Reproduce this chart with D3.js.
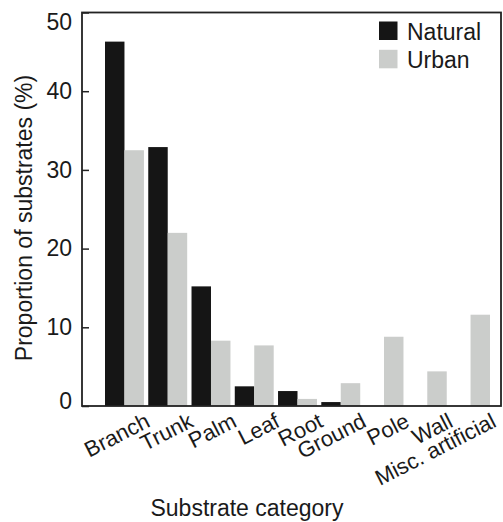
<!DOCTYPE html>
<html lang="en">
    <head>
        <meta charset="utf-8">
        <title>Substrate use</title>
        <script src="https://d3js.org/d3.v7.min.js"></script>
        <style type="text/css">
            body { margin: 0; background: white; }
            svg text { font-family: "Liberation Sans", Arial, sans-serif; fill: #1a1a1a; }
        </style>
    </head>
    <body>
        <script type="text/javascript">
            // data
            let categories = ["Branch", "Trunk", "Palm", "Leaf", "Root", "Ground", "Pole", "Wall", "Misc. artificial"];
            let series = ["Natural", "Urban"];
            let natural = [46.3, 32.9, 15.2, 2.5, 1.9, 0.5, 0, 0, 0];
            let urban = [32.5, 22.0, 8.3, 7.7, 0.9, 2.9, 8.8, 4.4, 11.6];
            let yTicks = [0, 10, 20, 30, 40, 50];

            let w = 503, h = 522;
            let colors = { Natural: "#151515", Urban: "#cbcdcb" };

            let svg = d3.select("body").append("svg")
                .attr("width", w)
                .attr("height", h);

            let plotLeft = 82, plotTop = 12.5, plotRight = 501, plotBottom = 406;

            let xScale = d3.scaleBand()
                .domain(categories)
                .range([105, 490])
                .paddingInner(0.1);
            let xInner = d3.scaleBand()
                .domain(series)
                .range([0, xScale.bandwidth()]);
            let yScale = d3.scaleLinear()
                .domain([0, 50])
                .range([plotBottom, plotTop]);

            let rows = categories.map((c, i) => ({ cat: c, Natural: natural[i], Urban: urban[i] }));

            // bars
            let groups = svg.append("g").selectAll("g")
                .data(rows)
                .enter()
                .append("g")
                .attr("transform", d => "translate(" + xScale(d.cat) + ",0)");
            groups.selectAll("rect")
                .data(d => series.map(s => ({ key: s, value: d[s] })))
                .enter()
                .append("rect")
                .attr("x", d => xInner(d.key))
                .attr("width", xInner.bandwidth())
                .attr("y", d => yScale(d.value))
                .attr("height", d => plotBottom - yScale(d.value))
                .attr("fill", d => colors[d.key]);

            // y axis, ticks pointing inwards
            let yAxis = svg.append("g")
                .attr("transform", "translate(" + plotLeft + ",0)")
                .call(d3.axisLeft(yScale).tickValues(yTicks).tickSize(-7).tickPadding(10));
            yAxis.select(".domain").remove();
            yAxis.selectAll("line").attr("stroke", "#222").attr("stroke-width", 1.5);
            yAxis.selectAll("text")
                .style("font-size", "23px")
                .attr("fill", "#1a1a1a")
                .attr("dy", d => d === 50 ? "0.75em" : d === 0 ? "0.1em" : "0.32em");

            // frame
            svg.append("rect")
                .attr("x", plotLeft).attr("y", plotTop)
                .attr("width", plotRight - plotLeft).attr("height", plotBottom - plotTop)
                .attr("fill", "none")
                .attr("stroke", "#222")
                .attr("stroke-width", 1.8);

            // rotated category labels, baseline ends right of each group
            svg.append("g").selectAll("text")
                .data(categories)
                .enter()
                .append("text")
                .attr("text-anchor", "end")
                .style("font-size", "22px")
                .attr("transform", d => "translate(" + (xScale(d) + xScale.bandwidth() / 2 + 27) + ",426) rotate(-27)")
                .text(d => d);

            // axis titles
            svg.append("text")
                .attr("x", 247).attr("y", 516)
                .attr("text-anchor", "middle")
                .style("font-size", "23px")
                .text("Substrate category");
            svg.append("text")
                .attr("transform", "translate(32,218) rotate(-90)")
                .attr("text-anchor", "middle")
                .style("font-size", "23px")
                .text("Proportion of substrates (%)");

            // legend
            let legend = svg.append("g").selectAll("g")
                .data(series)
                .enter()
                .append("g")
                .attr("transform", (d, i) => "translate(379," + (21.5 + i * 28.3) + ")");
            legend.append("rect")
                .attr("width", 18.5).attr("height", 18.5)
                .attr("fill", d => colors[d]);
            legend.append("text")
                .attr("x", 28).attr("y", 18.5)
                .style("font-size", "23px")
                .text(d => d);
        </script>
    </body>
</html>
